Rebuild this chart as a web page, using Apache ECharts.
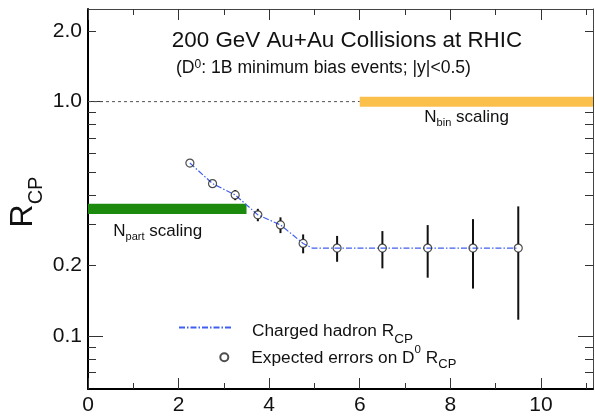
<!DOCTYPE html>
<html><head><meta charset="utf-8">
<script src="https://cdn.jsdelivr.net/npm/echarts@6/dist/echarts.min.js"></script>
<style>html,body{margin:0;padding:0;background:#fff}#c{width:595px;height:418px}</style>
</head><body><div id="c"></div>
<script>
const FONT = '"Liberation Sans", Arial, Helvetica, sans-serif';

// ---- data ----
const d0X = [2.25, 2.75, 3.25, 3.75, 4.25, 4.75, 5.5, 6.5, 7.5, 8.5, 9.5];
const d0Rcp = [0.547, 0.447, 0.400, 0.329, 0.298, 0.2485, 0.2375, 0.2375, 0.2375, 0.2375, 0.2375];
const d0Err = [0.008, 0.010, 0.020, 0.020, 0.023, 0.023, 0.030, 0.043, 0.060, 0.078, 0.120];
const hadronX = [2.25, 2.75, 3.25, 3.75, 4.25, 4.75, 4.95, 5.5, 6.5, 7.5, 8.5, 9.5];
const hadronRcp = [0.547, 0.447, 0.400, 0.329, 0.298, 0.2485, 0.2375, 0.2375, 0.2375, 0.2375, 0.2375, 0.2375];
const npartBandX = [0, 3.5];
const npartBandY = [0.332, 0.367];
const nbinBandX = [6, 11.15];
const nbinBandY = [0.95, 1.05];
const unityX = [0, 6];
const unityY = [1, 1];
const xTicksMajor = [0, 2, 4, 6, 8, 10];
const xTicksMinor = [1, 3, 5, 7, 9, 11];
const yLabels = [0.1, 0.2, 1.0, 2.0];
const yTicksLong = [0.1, 1.0];
const yTicksShort = [0.07, 0.08, 0.09, 0.2, 0.3, 0.4, 0.5, 0.6, 0.7, 0.8, 0.9, 2.0];
const xRange = [0, 11.15];
const yRange = [0.0595, 2.483];

const lg = Math.log10;
const chart = echarts.init(document.getElementById('c'), null, {renderer: 'canvas', width: 595, height: 418});

function xAxisDef(pos, ticks, len, lineShow, lineColor, lineWidth, labels) {
  return {
    type: 'value', gridIndex: 0, position: pos, min: xRange[0], max: xRange[1],
    axisLine: {show: lineShow, onZero: false, lineStyle: {color: lineColor, width: lineWidth}},
    axisTick: {show: true, inside: true, length: len, customValues: ticks, lineStyle: {color: '#333', width: 1}},
    axisLabel: labels ? {show: true, customValues: labels, margin: 6, color: '#111', fontSize: 21, fontFamily: FONT}
                      : {show: false},
    splitLine: {show: false}
  };
}
function yAxisDef(pos, ticks, len, lineShow, lineColor, lineWidth, labels) {
  return {
    type: 'value', gridIndex: 0, position: pos, min: lg(yRange[0]), max: lg(yRange[1]),
    axisLine: {show: lineShow, onZero: false, lineStyle: {color: lineColor, width: lineWidth}},
    axisTick: {show: true, inside: true, length: len, customValues: ticks.map(lg), lineStyle: {color: '#333', width: 1}},
    axisLabel: labels ? {show: true, customValues: labels.map(lg), margin: 6, color: '#111', fontSize: 21, fontFamily: FONT,
                         formatter: v => Math.pow(10, v).toFixed(1)}
                      : {show: false},
    splitLine: {show: false}
  };
}

function bandRender(params, api) {
  const p0 = api.coord([api.value(0), api.value(3)]);
  const p1 = api.coord([api.value(1), api.value(2)]);
  return {type: 'rect', shape: {x: p0[0], y: p0[1], width: p1[0] - p0[0], height: p1[1] - p0[1]},
          style: {fill: api.visual('color')}};
}
function errRender(params, api) {
  const c = api.coord([api.value(0), api.value(3)]);
  const lo = api.coord([api.value(0), api.value(1)]);
  const hi = api.coord([api.value(0), api.value(2)]);
  const r = 4;
  const ch = [];
  if (c[1] - r > hi[1]) ch.push({type: 'line', shape: {x1: c[0], y1: hi[1], x2: c[0], y2: c[1] - r}, style: {stroke: '#111', lineWidth: 2}});
  if (lo[1] > c[1] + r) ch.push({type: 'line', shape: {x1: c[0], y1: c[1] + r, x2: c[0], y2: lo[1]}, style: {stroke: '#111', lineWidth: 2}});
  return {type: 'group', children: ch};
}

function tok(size, pad, lh) {
  return {fontSize: size, fontFamily: FONT, color: '#111', lineHeight: lh || 20, padding: pad || [0, 0, 0, 0]};
}

const option = {
  backgroundColor: '#fff',
  animation: false,
  grid: {left: 88, right: 2, top: 9, bottom: 29},
  xAxis: [
    xAxisDef('bottom', xTicksMajor, 11, true, '#000', 2, xTicksMajor),
    xAxisDef('bottom', xTicksMinor, 6, false, '#000', 1, null),
    xAxisDef('top', xTicksMajor, 11, true, '#444', 1, null),
    xAxisDef('top', xTicksMinor, 6, false, '#444', 1, null)
  ],
  yAxis: [
    yAxisDef('left', yTicksLong, 15, true, '#000', 2, yLabels),
    yAxisDef('left', yTicksShort, 8, false, '#000', 1, null),
    yAxisDef('right', yTicksLong, 15, true, '#444', 1, null),
    yAxisDef('right', yTicksShort, 8, false, '#444', 1, null)
  ],
  legend: [
    {data: [{name: 'Charged hadron RCP',
             itemStyle: {color: 'rgba(0,0,0,0)', borderColor: 'rgba(0,0,0,0)', borderWidth: 0, opacity: 0}}],
     left: 178, top: 309, padding: 0, itemWidth: 54, itemHeight: 14, selectedMode: false,
     formatter: () => '{a|Charged hadron R}{s|CP}',
     textStyle: {color: '#111', fontFamily: FONT, fontSize: 17,
       rich: {a: tok(17.3, [7, 0, 0, 14]), s: tok(13.5, [23, 0, 0, 0])}}},
    {data: ['Expected errors on D0 RCP'], left: 219.3, top: 343.3, padding: 0, itemWidth: 8, itemHeight: 8, selectedMode: false,
     formatter: () => '{a|Expected errors on D}{p|0}{b| R}{s|CP}',
     textStyle: {color: '#111', fontFamily: FONT, fontSize: 17,
       rich: {a: tok(17.3, [2, 0, 0, 18]), b: tok(17.3, [2, 0, 0, 0]), p: tok(11.5, [0, 0, 14, 0]), s: tok(13, [15, 0, 0, 0])}}}
  ],
  graphic: [
    {type: 'text', x: 347, y: 41, silent: true,
     style: {text: '200 GeV Au+Au Collisions at RHIC', fontSize: 22.4, fontFamily: FONT, fill: '#111',
             align: 'center', verticalAlign: 'middle', textAlign: 'center', textVerticalAlign: 'middle'}},
    {type: 'text', x: 176, y: 68.2, silent: true,
     style: {text: '{m|(D}{p|0}{m|: 1B minimum bias events; |y|<0.5)}', fill: '#111',
             rich: {m: tok(17.6, [0, 0, 0, 0]), p: tok(12, [0, 0, 7, 0])},
             align: 'left', verticalAlign: 'middle', textAlign: 'left', textVerticalAlign: 'middle'}},
    {type: 'text', x: 424.3, y: 117, silent: true,
     style: {text: '{n|N}{s|bin}{n| scaling}', fill: '#111',
             rich: {n: tok(17), s: tok(11, [11, 0, 0, 0])},
             align: 'left', verticalAlign: 'middle', textAlign: 'left', textVerticalAlign: 'middle'}},
    {type: 'text', x: 113.3, y: 231, silent: true,
     style: {text: '{n|N}{s|part}{n| scaling}', fill: '#111',
             rich: {n: tok(17), s: tok(11, [11, 0, 0, 0])},
             align: 'left', verticalAlign: 'middle', textAlign: 'left', textVerticalAlign: 'middle'}},
    {type: 'text', x: 22.7, y: 202, rotation: Math.PI / 2, silent: true,
     style: {text: '{r|R}{s|CP}', fill: '#111',
             rich: {r: tok(32, [0, 0, 0, 0], 36), s: tok(20, [28, 0, 0, 0], 36)},
             align: 'center', verticalAlign: 'middle', textAlign: 'center', textVerticalAlign: 'middle'}}
  ],
  series: [
    {type: 'line', name: 'unity', data: unityX.map((x, i) => [x, lg(unityY[i])]), symbol: 'none', silent: true,
     lineStyle: {color: '#555', width: 1, type: [3, 3]}, z: 1},
    {type: 'custom', name: 'Npart scaling', renderItem: bandRender, silent: true, z: 2,
     itemStyle: {color: '#1c8a0c'}, encode: {x: [0, 1], y: [2, 3]},
     data: [[npartBandX[0], npartBandX[1], lg(npartBandY[0]), lg(npartBandY[1])]]},
    {type: 'custom', name: 'Nbin scaling', renderItem: bandRender, silent: true, z: 2,
     itemStyle: {color: '#fbc04c'}, encode: {x: [0, 1], y: [2, 3]},
     data: [[nbinBandX[0], nbinBandX[1], lg(nbinBandY[0]), lg(nbinBandY[1])]]},
    {type: 'line', name: 'Charged hadron RCP', data: hadronX.map((x, i) => [x, lg(hadronRcp[i])]),
     symbol: 'none', showSymbol: false, z: 3, color: '#3f5ff0',
     lineStyle: {color: '#3f5ff0', width: 1.2, type: [6, 2, 1.5, 2]}},
    {type: 'custom', name: 'errors', renderItem: errRender, silent: true, z: 4, encode: {x: 0, y: [1, 2, 3]},
     data: d0X.map((x, i) => [x, lg(d0Rcp[i] - d0Err[i]), lg(d0Rcp[i] + d0Err[i]), lg(d0Rcp[i])])},
    {type: 'scatter', name: 'Expected errors on D0 RCP', data: d0X.map((x, i) => [x, lg(d0Rcp[i])]),
     symbol: 'circle', symbolSize: 8, z: 5,
     itemStyle: {color: 'rgba(255,255,255,0)', borderColor: '#222', borderWidth: 1.2}}
  ]
};
chart.setOption(option);
</script>
</body></html>
